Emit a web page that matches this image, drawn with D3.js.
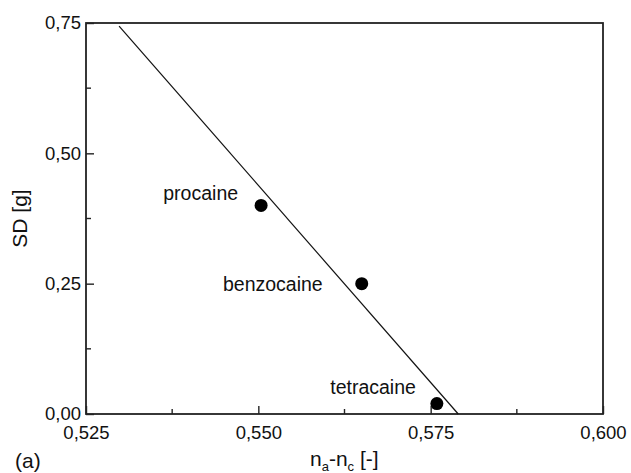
<!DOCTYPE html>
<html>
<head>
<meta charset="utf-8">
<script src="https://cdn.jsdelivr.net/npm/d3@7"></script>
<style>
  body { margin: 0; background: #fff; }
  text { font-family: "Liberation Sans", Arial, sans-serif; fill: #111; }
</style>
</head>
<body>
<svg id="chart" width="631" height="473"></svg>
<script>
// Measured drugs: birefringence difference vs. standard deviation
const drugs = ["procaine", "benzocaine", "tetracaine"];
const naNc = [0.5504, 0.5650, 0.5759];
const sd = [0.40, 0.25, 0.02];

// Linear fit drawn across the plot
const fitX = [0.5298, 0.5790];
const fitY = [0.744, 0.0];

const xTicks = [0.525, 0.550, 0.575, 0.600];
const xMinor = [0.5375, 0.5625, 0.5875];
const yTicks = [0.00, 0.25, 0.50, 0.75];
const yMinor = [0.125, 0.375, 0.625];

const svg = d3.select("#chart");
const m = { left: 86, right: 603, top: 23, bottom: 414 };

const x = d3.scaleLinear().domain([0.525, 0.600]).range([m.left, m.right]);
const y = d3.scaleLinear().domain([0, 0.75]).range([m.bottom, m.top]);

const fmt = d => d3.format(".3f")(d).replace(".", ",");
const fmtY = d => d3.format(".2f")(d).replace(".", ",");
const tickFont = 18.5;
const labelFont = 19.5;
const titleFont = 21;

// Frame
svg.append("rect")
  .attr("x", m.left).attr("y", m.top)
  .attr("width", m.right - m.left).attr("height", m.bottom - m.top)
  .attr("fill", "none").attr("stroke", "#222").attr("stroke-width", 1.8);

// X axis, ticks pointing inward
const xAxis = d3.axisBottom(x).tickValues(xTicks).tickSize(-8).tickPadding(12).tickFormat(fmt);
const gx = svg.append("g").attr("transform", `translate(0,${m.bottom})`).call(xAxis);
gx.select(".domain").remove();
gx.selectAll(".tick line").attr("stroke", "#222").attr("stroke-width", 1.4);
gx.selectAll(".tick text").attr("font-size", tickFont).attr("font-family", "Liberation Sans, Arial, sans-serif").attr("fill", "#111");
gx.selectAll(".minor").data(xMinor).enter().append("line")
  .attr("x1", d => x(d)).attr("x2", d => x(d)).attr("y1", 0).attr("y2", -5)
  .attr("stroke", "#222").attr("stroke-width", 1.4);

// Y axis
const yAxis = d3.axisLeft(y).tickValues(yTicks).tickSize(-8).tickPadding(5).tickFormat(fmtY);
const gy = svg.append("g").attr("transform", `translate(${m.left},0)`).call(yAxis);
gy.select(".domain").remove();
gy.selectAll(".tick line").attr("stroke", "#222").attr("stroke-width", 1.4);
gy.selectAll(".tick text").attr("font-size", tickFont).attr("font-family", "Liberation Sans, Arial, sans-serif").attr("fill", "#111");
gy.selectAll(".minor").data(yMinor).enter().append("line")
  .attr("y1", d => y(d)).attr("y2", d => y(d)).attr("x1", 0).attr("x2", 5)
  .attr("stroke", "#222").attr("stroke-width", 1.4);

// Fit line
svg.append("line")
  .attr("x1", x(fitX[0])).attr("y1", y(fitY[0]))
  .attr("x2", x(fitX[1])).attr("y2", y(fitY[1]))
  .attr("stroke", "#111").attr("stroke-width", 1.2);

// Points
const pts = drugs.map((d, i) => ({ name: d, x: naNc[i], y: sd[i] }));
svg.selectAll(".pt").data(pts).enter().append("circle")
  .attr("cx", d => x(d.x)).attr("cy", d => y(d.y)).attr("r", 6.5).attr("fill", "#000");

// Point labels
const labelOffsets = { procaine: [-23, -12], benzocaine: [-39, 0], tetracaine: [-21, -17] };
svg.selectAll(".lbl").data(pts).enter().append("text")
  .attr("x", d => x(d.x) + labelOffsets[d.name][0])
  .attr("y", d => y(d.y) + labelOffsets[d.name][1])
  .attr("text-anchor", "end").attr("dominant-baseline", "central")
  .attr("font-size", labelFont)
  .text(d => d.name);

// Axis titles
svg.append("text")
  .attr("transform", `translate(27,${(m.top + m.bottom) / 2}) rotate(-90)`)
  .attr("text-anchor", "middle").attr("font-size", titleFont)
  .text("SD [g]");

const xt = svg.append("text").attr("x", 310).attr("y", 466).attr("font-size", titleFont);
xt.append("tspan").text("n");
xt.append("tspan").attr("font-size", 13).attr("dy", 5).text("a");
xt.append("tspan").attr("dy", -5).text("-n");
xt.append("tspan").attr("font-size", 13).attr("dy", 5).text("c");
xt.append("tspan").attr("dy", -5).text(" [-]");

svg.append("text").attr("x", 15).attr("y", 468).attr("font-size", titleFont).text("(a)");
</script>
</body>
</html>
